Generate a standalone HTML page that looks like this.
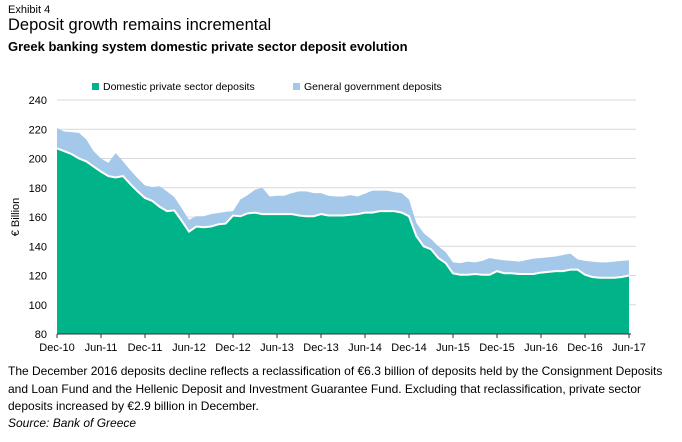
<!DOCTYPE html>
<html><head><meta charset="utf-8"><style>
body{margin:0;width:682px;height:442px;background:#fff;font-family:"Liberation Sans",sans-serif;color:#000;overflow:hidden;position:relative}
.t{position:absolute;white-space:nowrap}
</style></head><body>
<div class="t" style="left:8px;top:4px;font-size:11px">Exhibit 4</div>
<div class="t" style="left:8px;top:16px;font-size:16.5px">Deposit growth remains incremental</div>
<div class="t" style="left:8px;top:39px;font-size:13px;font-weight:bold">Greek banking system domestic private sector deposit evolution</div>
<svg id="chart" width="682" height="362" style="position:absolute;left:0;top:0" font-family="Liberation Sans, sans-serif"></svg>
<div class="t" style="left:8px;top:363px;font-size:12px;line-height:17.5px;white-space:normal;width:672px">The December 2016 deposits decline reflects a reclassification of €6.3 billion of deposits held by the Consignment Deposits and Loan Fund and the Hellenic Deposit and Investment Guarantee Fund. Excluding that reclassification, private sector deposits increased by €2.9 billion in December.</div>
<div class="t" style="left:8px;top:416px;font-size:12px;font-style:italic">Source: Bank of Greece</div>
<script>
const privateDeposits=[207,205,203,200,198,194.5,191,188,187,188,182.5,177.5,173,171,167,164,164.5,157.5,150,153.5,153,153.5,155,155.5,161,160.5,162.5,163,162,162,162,162,162,161,160.5,160.5,162,161,161,161,161.5,162,163,163,164,164,164,163,160.5,147,140,138,132,128.5,121.5,120.5,120.5,121,120.5,120.5,123,121.5,121.5,121,121,121,122,122.5,123,123,124,124,120.5,119,118.5,118.5,118.5,119,120];
const totalDeposits=[220.8,218.5,218,217.5,213,205,200,197,203.7,198,192,186.5,181.5,180.5,181,177.5,173.6,166,158,160.5,160.5,162,162.7,163.5,164,172,175,178.6,180,174,174.5,174.5,176.3,177.5,177.5,176.3,176.3,174.5,174,174,175,174,176,178,178,178,177,176.3,172,156,149,145,140,136,129,128.5,129.5,129,130,132,131,130.3,130,129.5,130.5,131.5,132,132.5,133,134,135,131,130,129.5,129,129,129.5,130,130.3];
const yTicks=[80,100,120,140,160,180,200,220,240];
const xLabels=["Dec-10","Jun-11","Dec-11","Jun-12","Dec-12","Jun-13","Dec-13","Jun-14","Dec-14","Jun-15","Dec-15","Jun-16","Dec-16","Jun-17"];
const svg=document.getElementById('chart');
const NS='http://www.w3.org/2000/svg';
const x0=57,x1=629,yb=334,yt=100;
const xs=i=>x0+i*(x1-x0)/(privateDeposits.length-1);
const ys=v=>yb-(v-80)*(yb-yt)/160;
function mk(t,a){const e=document.createElementNS(NS,t);for(const k in a)e.setAttribute(k,a[k]);svg.appendChild(e);return e;}
yTicks.forEach(v=>{
  if(v>80){const g=mk('line',{x1:x0,x2:636,y1:ys(v),y2:ys(v),stroke:'#d9d9d9','stroke-width':1});
  
  }
  const t=mk('text',{x:47,y:ys(v)+4,'text-anchor':'end','font-size':11});t.textContent=v;
  
  
});
let p='M'+xs(0)+','+ys(80);
totalDeposits.forEach((v,i)=>p+=' L'+xs(i)+','+ys(v));
p+=' L'+xs(totalDeposits.length-1)+','+ys(80)+'Z';
const a1=mk('path',{d:p,fill:'#a4c8ea'});


let q='M'+xs(0)+','+ys(80);let ln='';
privateDeposits.forEach((v,i)=>{q+=' L'+xs(i)+','+ys(v);ln+=(i?' L':'M')+xs(i)+','+ys(v);});
q+=' L'+xs(privateDeposits.length-1)+','+ys(80)+'Z';
const a2=mk('path',{d:q,fill:'#00b388'});


const l=mk('path',{d:ln,fill:'none',stroke:'#fff','stroke-width':2});


const ax=mk('line',{x1:x0,x2:631,y1:yb,y2:yb,stroke:'#333','stroke-width':1});


xLabels.forEach((s,i)=>{const xx=xs(i*6);
  const tk=mk('line',{x1:xx,x2:xx,y1:yb,y2:yb+4,stroke:'#333'});
  
  
  const t=mk('text',{x:xx,y:yb+17,'text-anchor':'middle','font-size':11});t.textContent=s;
  
  
});
const yt2=mk('text',{x:19,y:217,'text-anchor':'middle','font-size':11,transform:'rotate(-90 19 217)'});yt2.textContent='€ Billion';


const lg1=mk('rect',{x:92,y:83,width:7,height:7,fill:'#00b388'});


const lt1=mk('text',{x:103,y:90,'font-size':10.5});lt1.textContent='Domestic private sector deposits';


const lg2=mk('rect',{x:293,y:83,width:7,height:7,fill:'#a4c8ea'});


const lt2=mk('text',{x:304,y:90,'font-size':10.5});lt2.textContent='General government deposits';


</script>
</body></html>
